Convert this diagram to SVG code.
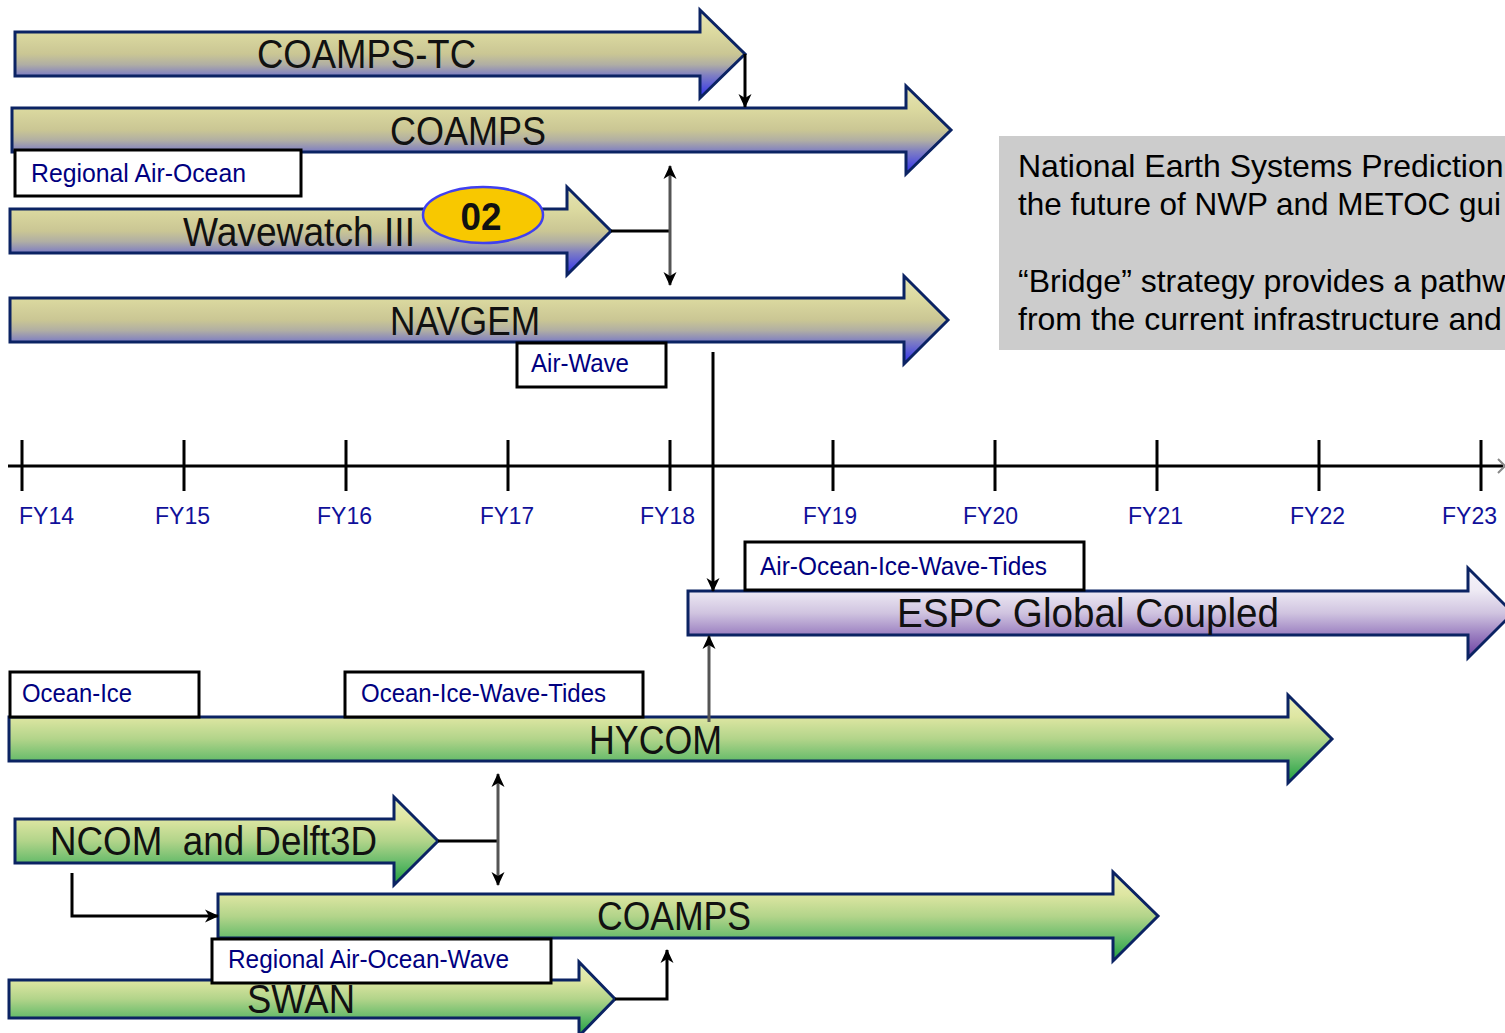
<svg xmlns="http://www.w3.org/2000/svg" width="1505" height="1033" viewBox="0 0 1505 1033">
<style>
.arr{stroke:#0B2363;stroke-width:3;stroke-linejoin:miter}
.big{font-family:"Liberation Sans",Arial,sans-serif;font-size:40px;fill:#111}
.lbl{font-family:"Liberation Sans",Arial,sans-serif;font-size:26px;fill:#000080}
.fy{font-family:"Liberation Sans",Arial,sans-serif;font-size:24px;fill:#10109A}
.box{fill:#fff;stroke:#000;stroke-width:3}
.note{font-family:"Liberation Sans",Arial,sans-serif;font-size:32px;fill:#000}
.con{fill:none;stroke:#000;stroke-width:3}
.cong{fill:none;stroke:#555;stroke-width:3}
.tick{stroke:#000;stroke-width:3}
</style>
<defs>
<linearGradient id="gb" x1="0" y1="0" x2="0" y2="1">
<stop offset="0" stop-color="#E6E4B4"/>
<stop offset="0.25" stop-color="#DCDAA0"/>
<stop offset="0.5" stop-color="#CAC694"/>
<stop offset="0.62" stop-color="#B0AEA4"/>
<stop offset="0.75" stop-color="#7C7CC4"/>
<stop offset="1" stop-color="#2E2EF0"/>
</linearGradient>
<linearGradient id="gg" x1="0" y1="0" x2="0" y2="1">
<stop offset="0" stop-color="#EAF0BC"/>
<stop offset="0.25" stop-color="#DEE6A2"/>
<stop offset="0.5" stop-color="#B2D48A"/>
<stop offset="0.75" stop-color="#66BB6A"/>
<stop offset="1" stop-color="#1E9E3E"/>
</linearGradient>
<linearGradient id="gp" x1="0" y1="0" x2="0" y2="1">
<stop offset="0" stop-color="#F6F4FA"/>
<stop offset="0.25" stop-color="#EEEAF4"/>
<stop offset="0.5" stop-color="#D0C4E0"/>
<stop offset="0.75" stop-color="#9A7EC0"/>
<stop offset="1" stop-color="#6A3EA0"/>
</linearGradient>
<marker id="ah" viewBox="0 0 14 14" refX="13" refY="7" markerWidth="14" markerHeight="14" markerUnits="userSpaceOnUse" orient="auto-start-reverse">
<path d="M0,0.5 L14,7 L0,13.5 L4,7 Z" fill="#000"/>
</marker>
</defs>

<g id="note-box">
<rect x="999" y="136" width="512" height="214" fill="#CCCCCC"/>
<text class="note" x="1018" y="177">National Earth Systems Prediction</text>
<text class="note" x="1018" y="215" textLength="483" lengthAdjust="spacingAndGlyphs">the future of NWP and METOC gui</text>
<text class="note" x="1018" y="292">“Bridge” strategy provides a pathw</text>
<text class="note" x="1018" y="330">from the current infrastructure and</text>
</g>

<g id="timeline">
<path class="con" d="M8,466 H1503"/>
<polyline points="1498,459 1505,466 1498,473" fill="none" stroke="#888" stroke-width="2"/>
<path class="tick" d="M22,440V491 M184,440V491 M346,440V491 M508,440V491 M670,440V491 M833,440V491 M995,440V491 M1157,440V491 M1319,440V491 M1481,440V491"/>
<text class="fy" x="19" y="524" textLength="55" lengthAdjust="spacingAndGlyphs">FY14</text>
<text class="fy" x="155" y="524" textLength="55" lengthAdjust="spacingAndGlyphs">FY15</text>
<text class="fy" x="317" y="524" textLength="55" lengthAdjust="spacingAndGlyphs">FY16</text>
<text class="fy" x="480" y="524" textLength="54" lengthAdjust="spacingAndGlyphs">FY17</text>
<text class="fy" x="640" y="524" textLength="55" lengthAdjust="spacingAndGlyphs">FY18</text>
<text class="fy" x="803" y="524" textLength="54" lengthAdjust="spacingAndGlyphs">FY19</text>
<text class="fy" x="963" y="524" textLength="55" lengthAdjust="spacingAndGlyphs">FY20</text>
<text class="fy" x="1128" y="524" textLength="55" lengthAdjust="spacingAndGlyphs">FY21</text>
<text class="fy" x="1290" y="524" textLength="55" lengthAdjust="spacingAndGlyphs">FY22</text>
<text class="fy" x="1442" y="524" textLength="55" lengthAdjust="spacingAndGlyphs">FY23</text>
</g>

<g id="coamps-tc">
<path class="arr" fill="url(#gb)" d="M15,32 H700 V10 L745,54 L700,98 V76 H15 Z"/>
<text class="big" x="257" y="68" textLength="219" lengthAdjust="spacingAndGlyphs">COAMPS-TC</text>
</g>

<g id="coamps-top">
<path class="arr" fill="url(#gb)" d="M12,108 H906 V86 L951,130 L906,174 V152 H12 Z"/>
<text class="big" x="390" y="145" textLength="156" lengthAdjust="spacingAndGlyphs">COAMPS</text>
</g>

<g id="wavewatch">
<path class="arr" fill="url(#gb)" d="M10,209 H567 V187 L611,231 L567,275 V253 H10 Z"/>
<text class="big" x="183" y="246" textLength="232" lengthAdjust="spacingAndGlyphs">Wavewatch III</text>
<ellipse cx="483" cy="215" rx="60" ry="28" fill="#F8C800" stroke="#4040F0" stroke-width="2.5"/>
<text x="481" y="230" text-anchor="middle" font-family="Liberation Sans,Arial,sans-serif" font-size="38" font-weight="bold" fill="#111" textLength="41" lengthAdjust="spacingAndGlyphs">02</text>
</g>

<g id="navgem">
<path class="arr" fill="url(#gb)" d="M10,298 H904 V276 L948,320 L904,364 V342 H10 Z"/>
<text class="big" x="390" y="335" textLength="150" lengthAdjust="spacingAndGlyphs">NAVGEM</text>
</g>

<g id="espc">
<path class="arr" fill="url(#gp)" d="M688,591 H1468 V568 L1513,613 L1468,658 V635 H688 Z"/>
<text class="big" x="897" y="627" textLength="382" lengthAdjust="spacingAndGlyphs">ESPC Global Coupled</text>
</g>

<g id="hycom">
<path class="arr" fill="url(#gg)" d="M9,717 H1288 V695 L1332,739 L1288,783 V761 H9 Z"/>
<text class="big" x="589" y="754" textLength="133" lengthAdjust="spacingAndGlyphs">HYCOM</text>
</g>

<g id="ncom">
<path class="arr" fill="url(#gg)" d="M15,819 H394 V797 L438,841 L394,885 V863 H15 Z"/>
<text class="big" x="50" y="855" textLength="327" lengthAdjust="spacingAndGlyphs" style="white-space:pre">NCOM  and Delft3D</text>
</g>

<g id="coamps-bottom">
<path class="arr" fill="url(#gg)" d="M218,894 H1113 V872 L1158,916 L1113,961 V938 H218 Z"/>
<text class="big" x="597" y="930" textLength="154" lengthAdjust="spacingAndGlyphs">COAMPS</text>
</g>

<g id="swan">
<path class="arr" fill="url(#gg)" d="M9,980 H579 V962 L615,999 L579,1036 V1018 H9 Z"/>
<text class="big" x="247" y="1013" textLength="108" lengthAdjust="spacingAndGlyphs">SWAN</text>
</g>

<g id="label-regional-air-ocean">
<rect class="box" x="15" y="150" width="286" height="46"/>
<text class="lbl" x="31" y="182" textLength="215" lengthAdjust="spacingAndGlyphs">Regional Air-Ocean</text>
</g>
<g id="label-air-wave">
<rect class="box" x="517" y="343" width="149" height="44"/>
<text class="lbl" x="531" y="372" textLength="98" lengthAdjust="spacingAndGlyphs">Air-Wave</text>
</g>
<g id="label-air-ocean-ice-wave-tides">
<rect class="box" x="745" y="542" width="339" height="48"/>
<text class="lbl" x="760" y="575" textLength="287" lengthAdjust="spacingAndGlyphs">Air-Ocean-Ice-Wave-Tides</text>
</g>
<g id="label-ocean-ice">
<rect class="box" x="10" y="672" width="189" height="45"/>
<text class="lbl" x="22" y="702" textLength="110" lengthAdjust="spacingAndGlyphs">Ocean-Ice</text>
</g>
<g id="label-ocean-ice-wave-tides">
<rect class="box" x="345" y="672" width="298" height="45"/>
<text class="lbl" x="361" y="702" textLength="245" lengthAdjust="spacingAndGlyphs">Ocean-Ice-Wave-Tides</text>
</g>
<g id="label-regional-air-ocean-wave">
<rect class="box" x="212" y="939" width="339" height="44"/>
<text class="lbl" x="228" y="968" textLength="281" lengthAdjust="spacingAndGlyphs">Regional Air-Ocean-Wave</text>
</g>

<g id="connectors">
<path class="con" d="M745,54 V107" marker-end="url(#ah)"/>
<path class="con" d="M611,231 H670"/>
<path class="cong" d="M670,166 V285" marker-start="url(#ah)" marker-end="url(#ah)"/>
<path class="con" d="M713,352 V591" marker-end="url(#ah)"/>
<path class="cong" d="M709,722 V636" marker-end="url(#ah)"/>
<path class="con" d="M438,841 H498"/>
<path class="cong" d="M498,774 V885" marker-start="url(#ah)" marker-end="url(#ah)"/>
<path class="con" d="M72,873 V916 H218" marker-end="url(#ah)"/>
<path class="con" d="M615,999 H667 V950" marker-end="url(#ah)"/>
</g>
</svg>
